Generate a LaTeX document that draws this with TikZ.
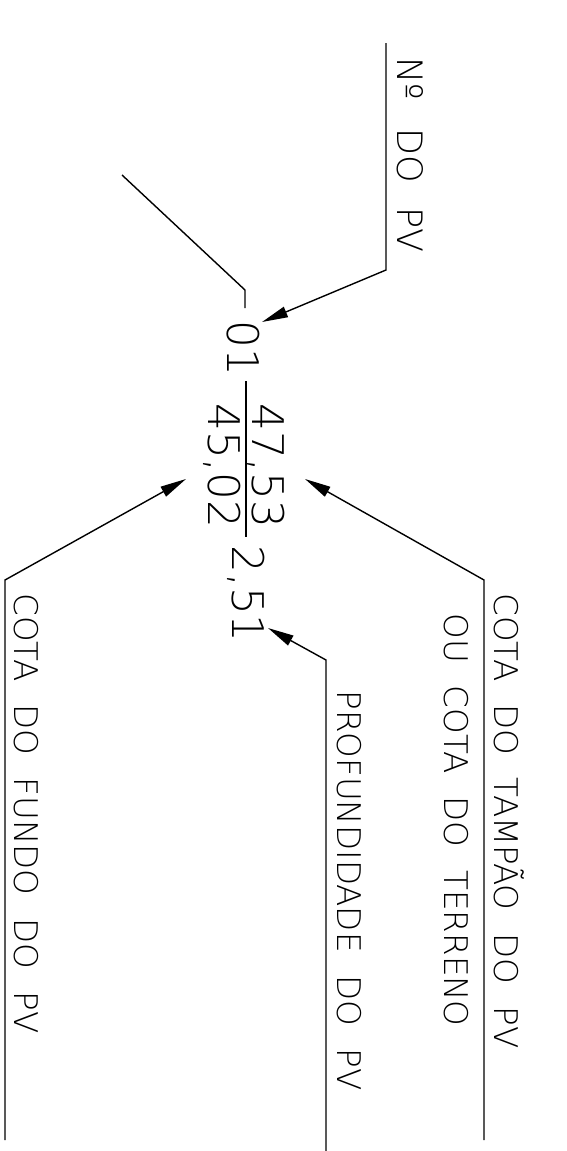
\documentclass[tikz,border=0pt]{standalone}
\usepackage{fontspec}
\usepackage{tikz}
\usetikzlibrary{calc}
\usetikzlibrary{arrows.meta}
\usetikzlibrary{positioning}

\newfontfamily\cadfont{DejaVuSans-ExtraLight.ttf}[WordSpace=2.2]

\tikzset{
  txt/.style={rotate=-90, anchor=base west, inner sep=0pt,
              font=\cadfont\fontsize{16.3}{16.3}\selectfont},
  val/.style={txt, font=\cadfont\fontsize{21.8}{21.8}\selectfont},
  lead/.style={line width=0.7pt},
  tip/.style={lead, -{Triangle[length=13pt, width=5.5pt]}}
}

\begin{document}
\begin{tikzpicture}[x=0.5pt, y=-0.5pt]
\useasboundingbox (0, 0) rectangle (567, 1151);

% ---------------------------------------------------
% PV number and values
\node[val] (num)   at (227, 320) {01};
\node[val] (ctop)  at (252, 403) {47,53};
\node[val] (cbot)  at (208, 403) {45,02};
\node[val] (depth) at (232, 545) {2,51};

\coordinate[] (bar0) at (246, 381);
\coordinate[] (bar1) at (246, 537);
\draw[lead] (bar0) -- (bar1);

% Leader without label
\coordinate[] (l0) at (122, 175);
\coordinate[] (l1) at (245, 290);
\coordinate[] (l2) at (245, 308);
\draw[lead] (l0) -- (l1) -- (l2);

% ---------------------------------------------------
% Labels
\node[txt, font=\cadfont\fontsize{17.5}{17.5}\selectfont]
      (pvtxt)   at (397,  57) {Nº\hspace{2pt} DO PV};
\node[txt] (tampao)  at (494, 593) {COTA DO TAMPÃO DO PV};
\node[txt] (terreno) at (444, 613) {OU COTA DO TERRENO};
\node[txt] (prof)    at (337, 690) {PROFUNDIDADE DO PV};
\node[txt] (fundo)   at ( 14, 593) {COTA DO FUNDO DO PV};

% ---------------------------------------------------
% Leaders with arrows
\coordinate[] (pv0) at (386,  43);
\coordinate[] (pv1) at (386, 270);
\coordinate[] (pv2) at (262, 322);
\draw[tip] (pv0) -- (pv1) -- (pv2);

\coordinate[] (ta0) at (484, 1140);
\coordinate[] (ta1) at (484,  580);
\coordinate[] (ta2) at (305,  479);
\draw[tip] (ta0) -- (ta1) -- (ta2);

\coordinate[] (pr0) at (326, 1151);
\coordinate[] (pr1) at (326,  660);
\coordinate[] (pr2) at (268,  628);
\draw[tip] (pr0) -- (pr1) -- (pr2);

\coordinate[] (fu0) at (5, 1140);
\coordinate[] (fu1) at (5,  580);
\coordinate[] (fu2) at (186, 479);
\draw[tip] (fu0) -- (fu1) -- (fu2);
% ---------------------------------------------------
\end{tikzpicture}
\end{document}
